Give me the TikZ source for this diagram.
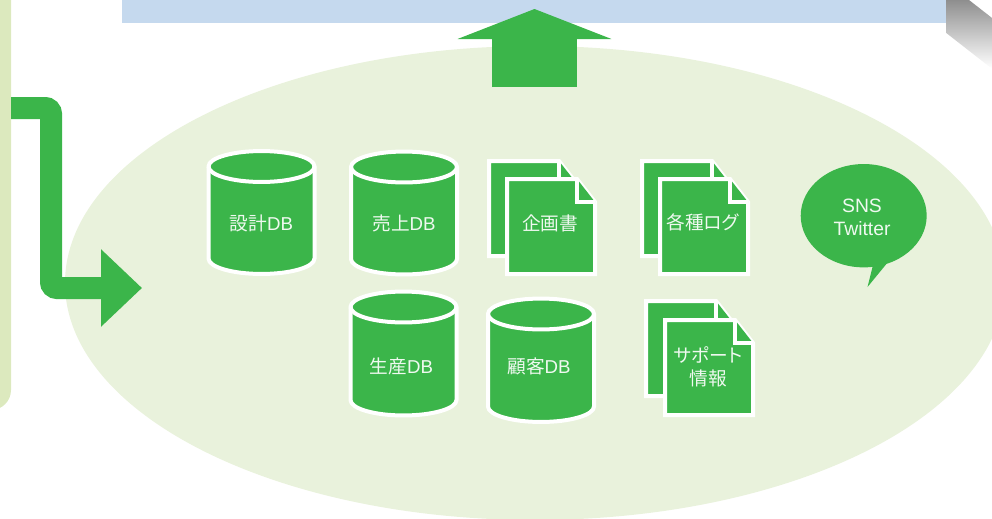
\documentclass[tikz,border=0pt]{standalone}
\usepackage{fontspec}
\setmainfont{Liberation Sans}
\newfontfamily\cjk[RawFeature={+palt}]{Noto Sans CJK JP}
\usepackage{tikz}
\usetikzlibrary{arrows.meta, shapes.geometric}
\definecolor{leaf}{HTML}{3BB54A}
\definecolor{pale}{HTML}{E9F2DC}
\definecolor{barcol}{HTML}{DCE9BE}
\definecolor{sky}{HTML}{C5D9EE}
\newcommand{\sheet}[2]{%
 \draw[sheetline] (#1,#2) -- ++(70,0) -- ++(18,23) -- ++(0,72) -- ++(-88,0) -- cycle;
 \draw[sheetline] (#1+70,#2) -- ++(0,23) -- ++(18,0);}
\newcommand{\drum}[3]{% centre x, top y, bottom y of the side walls
 \draw[sheetline] (#1-53,#2) -- (#1-53,#3) arc [x radius=39.75pt, y radius=11.6pt, start angle=180, end angle=360] -- (#1+53,#2) arc [x radius=39.75pt, y radius=11.6pt, start angle=0, end angle=180] -- cycle;
 \draw[sheetline, fill=none] (#1-53,#2) arc [x radius=39.75pt, y radius=11.6pt, start angle=180, end angle=360];}
\begin{document}
\begin{tikzpicture}
[x=0.75pt, y=-0.75pt,
 sheetline/.style={draw=white, fill=leaf, line width=3pt, line join=miter},
 lab/.style={text=white!92!leaf, font=\fontsize{14}{17.25}\selectfont, align=center, inner sep=0pt},
 ->/.style={draw=leaf, line width=16.5pt, rounded corners=4.5pt}]
\useasboundingbox (0,0) rectangle (992,518);
\fill[pale] (535,283) ellipse [x radius=470, y radius=237];
% page curl
\begin{scope}
\clip (946,0) rectangle (992,80);
\shade[top color=black!60, bottom color=white, rotate around={-38:(969,0)}] (929,0) rectangle (1029,40);
\end{scope}
\fill[sky] (122,0) rectangle (946,22.5);
\fill[barcol, rounded corners=15pt] (-20,-20) rectangle (11,410);
\coordinate (barout) at (11,108);
\coordinate (bend1) at (51,108);
\coordinate (bend2) at (51,288);
\coordinate (store) at (142,288);
\coordinate (upfoot) at (534.5,87);
\coordinate (uptip) at (534.5,9);
\draw[->, arrows={-Triangle[length=30.75pt, width=56.25pt]}] (barout) -- (bend1) -- (bend2) -- (store);
\draw[draw=leaf, line width=63.75pt, arrows={-Triangle[length=22.5pt, width=114.75pt]}] (upfoot) -- (uptip);
\drum{261.5}{166.5}{258.5}
\drum{404}{167}{259}
\drum{403.5}{307}{400}
\drum{541}{314}{406.5}
\node[lab] (designtxt) at (261.5,223) {{\cjk 設計}DB};
\node[lab] (salestxt) at (404,223) {{\cjk 売上}DB};
\node[lab] (prodtxt) at (401.5,366.5) {{\cjk 生産}DB};
\node[lab] (clienttxt) at (539,366.5) {{\cjk 顧客}DB};
\sheet{489}{161} \sheet{507}{179}
\sheet{642}{161} \sheet{660}{179}
\sheet{646}{301} \sheet{665}{320}
\node[lab] (plantxt) at (550,223) {\cjk 企画書};
\node[lab] (logtxt) at (703,222) {\cjk 各種ログ};
\node[lab] (supporttxt) at (708,366.5) {\cjk サポート\\\cjk 情報};
\fill[leaf] (873,265) -- (867.5,287) -- (888,262) -- cycle;
\node[ellipse, fill=leaf, minimum width=94.5pt, minimum height=77.5pt, inner sep=0pt] (sns) at (863.7,215.7) {};
\node[lab, font=\fontsize{14.5}{17.25}\selectfont] (snstxt) at (862,217.5) {SNS\\Twitter};
\end{tikzpicture}
\end{document}
